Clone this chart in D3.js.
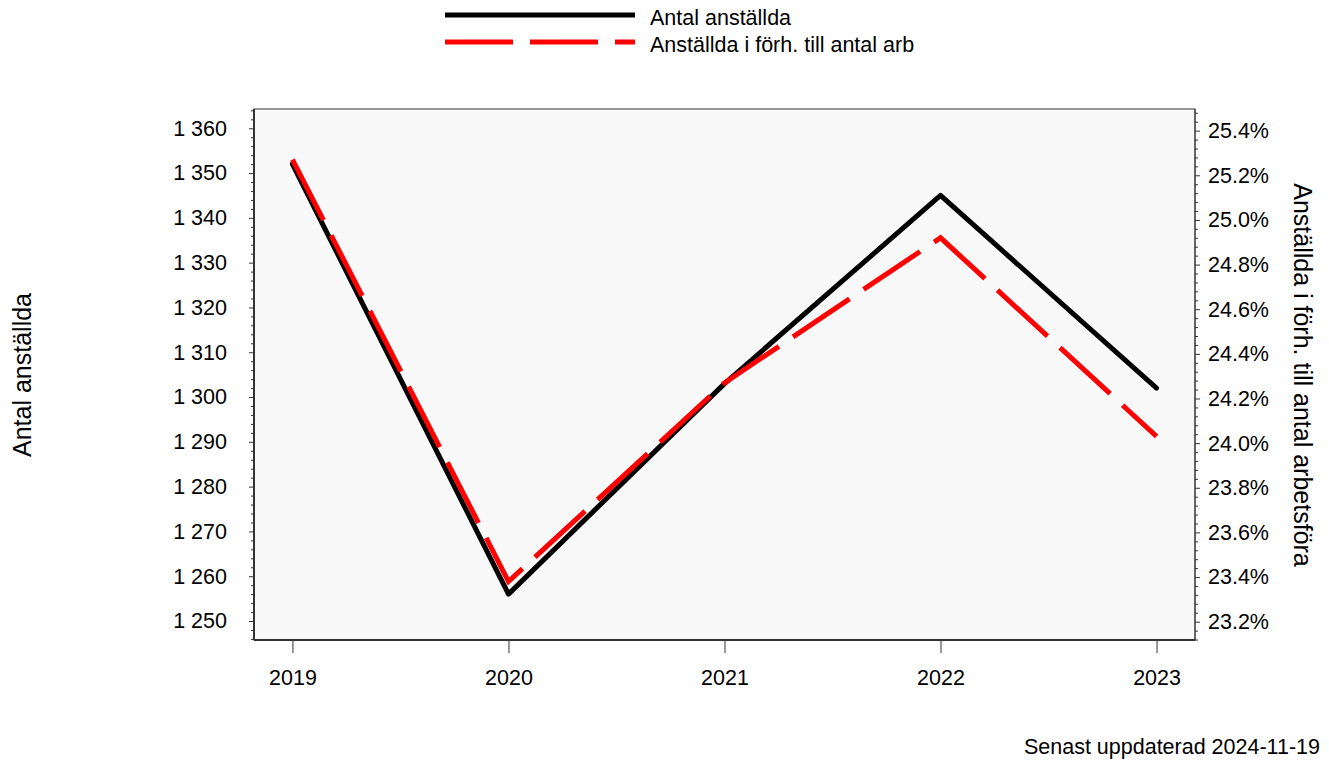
<!DOCTYPE html>
<html><head><meta charset="utf-8">
<script src="https://cdn.jsdelivr.net/npm/d3@7"></script>
<style>body{margin:0;background:#fff;} text{font-family:"Liberation Sans",Arial,sans-serif;fill:#000;}</style>
</head><body>
<svg id="c" width="1329" height="762"></svg>
<script>
const years = [2019, 2020, 2021, 2022, 2023];
const antal = [1352, 1256, 1303, 1345, 1302];
const andel = [25.27, 23.38, 24.27, 24.92, 24.03];
const leftTicks = [1250, 1260, 1270, 1280, 1290, 1300, 1310, 1320, 1330, 1340, 1350, 1360];
const rightTicks = [23.2, 23.4, 23.6, 23.8, 24.0, 24.2, 24.4, 24.6, 24.8, 25.0, 25.2, 25.4];
const seriesNames = ["Antal anställda", "Anställda i förh. till antal arb"];
const leftTitle = "Antal anställda";
const rightTitle = "Anställda i förh. till antal arbetsföra";
const footer = "Senast uppdaterad 2024-11-19";

const FS = 21.5;
const svg = d3.select("#c");
const L = 254, R = 1195, T = 109, B = 640;
const x = d3.scaleLinear().domain([2018.822, 2023.178]).range([L, R]);
const yL = d3.scaleLinear().domain([1245.76, 1364.3]).range([B, T]);
const yR = d3.scaleLinear().domain([23.118, 25.497]).range([B, T]);
const loc = d3.formatLocale({decimal: ".", thousands: " ", grouping: [3], currency: ["", ""]});
const fmtL = loc.format(",d");

svg.append("rect").attr("x", L).attr("y", T).attr("width", R - L).attr("height", B - T)
  .attr("fill", "#f9f9f9").attr("stroke", "#333").attr("stroke-width", 1);

const styleText = g => g.selectAll("text").attr("font-size", FS).attr("font-family", "Liberation Sans, Arial, sans-serif").attr("fill", "#000");

// left axis minor ticks
const minorL = d3.range(1246, 1365, 2).filter(v => v % 10 !== 0);
svg.append("g").attr("transform", `translate(${L},0)`)
  .call(d3.axisLeft(yL).tickValues(minorL).tickSize(3).tickFormat(""))
  .call(g => g.select(".domain").remove()).selectAll("line").attr("stroke", "#333");
svg.append("g").attr("transform", `translate(${L},0)`)
  .call(d3.axisLeft(yL).tickValues(leftTicks).tickSize(5).tickPadding(22).tickFormat(fmtL))
  .call(g => g.select(".domain").attr("stroke", "#333").attr("stroke-width", 2).attr("d", `M0,${T}V${B}`))
  .call(g => g.selectAll("line").attr("stroke", "#333"))
  .call(styleText);

// right axis
const minorR = d3.range(23.12, 25.5, 0.04).filter(v => Math.abs(v * 5 - Math.round(v * 5)) > 0.01);
svg.append("g").attr("transform", `translate(${R},0)`)
  .call(d3.axisRight(yR).tickValues(minorR).tickSize(3).tickFormat(""))
  .call(g => g.select(".domain").remove()).selectAll("line").attr("stroke", "#333");
svg.append("g").attr("transform", `translate(${R},0)`)
  .call(d3.axisRight(yR).tickValues(rightTicks).tickSize(5).tickPadding(8).tickFormat(d => d3.format(".1f")(d) + "%"))
  .call(g => g.select(".domain").attr("stroke", "#333").attr("stroke-width", 1).attr("d", `M0,${T}V${B}`))
  .call(g => g.selectAll("line").attr("stroke", "#333"))
  .call(styleText);

// x axis
svg.append("g").attr("transform", `translate(0,${B})`)
  .call(d3.axisBottom(x).tickValues(years).tickSize(13).tickPadding(17).tickFormat(d3.format("d")))
  .call(g => g.select(".domain").attr("stroke", "#333").attr("stroke-width", 2).attr("d", `M${L},0H${R}`))
  .call(g => g.selectAll("line").attr("stroke", "#333"))
  .call(styleText);

// lines
const lineL = d3.line().x((d, i) => x(years[i])).y(d => yL(d));
const lineR = d3.line().x((d, i) => x(years[i])).y(d => yR(d));
svg.append("path").datum(antal).attr("d", lineL).attr("fill", "none")
  .attr("stroke", "#000").attr("stroke-width", 5).attr("stroke-linejoin", "round").attr("stroke-linecap", "round");
svg.append("path").datum(andel).attr("d", lineR).attr("fill", "none")
  .attr("stroke", "#ff0000").attr("stroke-width", 5).attr("stroke-dasharray", "68,17").attr("stroke-linejoin", "miter").attr("stroke-linecap", "butt");

// legend
const lg = svg.append("g");
lg.append("line").attr("x1", 445).attr("x2", 635).attr("y1", 15).attr("y2", 15).attr("stroke", "#000").attr("stroke-width", 5);
lg.append("line").attr("x1", 445).attr("x2", 635).attr("y1", 42).attr("y2", 42).attr("stroke", "#ff0000").attr("stroke-width", 5).attr("stroke-dasharray", "68,17");
lg.append("text").attr("x", 650).attr("y", 25).attr("font-size", FS).text(seriesNames[0]);
lg.append("text").attr("x", 650).attr("y", 52).attr("font-size", FS).text(seriesNames[1]);

// titles
svg.append("text").attr("transform", "translate(31,375) rotate(-90)").attr("text-anchor", "middle").attr("font-size", 25).text(leftTitle);
svg.append("text").attr("transform", "translate(1294,375) rotate(90)").attr("text-anchor", "middle").attr("font-size", 25).text(rightTitle);
svg.append("text").attr("x", 1320).attr("y", 754).attr("text-anchor", "end").attr("font-size", FS).text(footer);
</script>
</body></html>
